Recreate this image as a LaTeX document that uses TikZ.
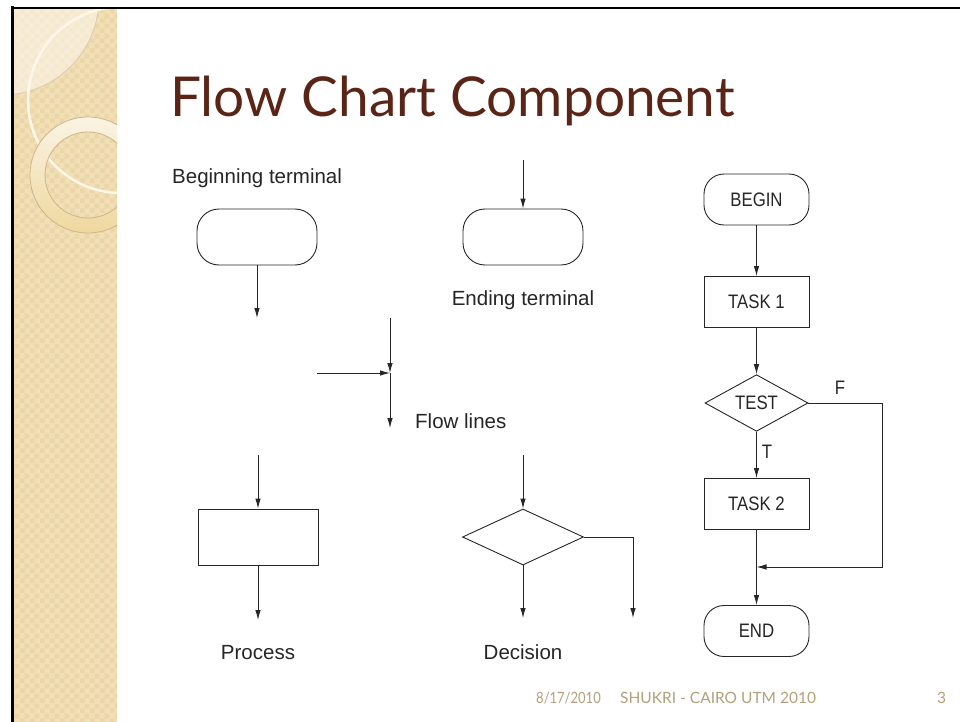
\documentclass[tikz,border=0pt]{standalone}
\usepackage{fontspec}
\setmainfont{Liberation Sans}
\newfontfamily\titlefont{Lato}
\newfontfamily\datefont[FakeStretch=0.84]{Lato}
\newfontfamily\narrowfont[FakeStretch=0.86]{Liberation Sans}
\usetikzlibrary{arrows.meta,shapes.geometric,patterns}

\definecolor{stripbeige}{HTML}{F1DFB7}
\definecolor{stripcheck}{HTML}{EBD6A8}
\definecolor{ringtop}{HTML}{FBF4E4}
\definecolor{ringbottom}{HTML}{EFD79E}
\definecolor{ringedge}{HTML}{CDB58D}
\definecolor{creamline}{HTML}{FFF8E8}
\definecolor{titlebrown}{HTML}{5A2416}
\definecolor{footertan}{HTML}{B3A07C}
\definecolor{inkgray}{HTML}{262626}

% small two-tone checker used on the side strip
\pgfdeclarepatternformonly{softchecker}{\pgfpointorigin}{\pgfpoint{10pt}{10pt}}{\pgfpoint{10pt}{10pt}}{%
  \pgfpathrectangle{\pgfpointorigin}{\pgfpoint{5pt}{5pt}}%
  \pgfpathrectangle{\pgfpoint{5pt}{5pt}}{\pgfpoint{5pt}{5pt}}%
  \pgfusepath{fill}}

\tikzset{
  conn/.style={draw=inkgray, line width=0.9pt},
  flow/.style={conn, -{Latex[length=10pt,width=5.5pt]}},
  termbox/.style={rectangle, rounded corners=22pt, draw=inkgray, line width=0.9pt,
    minimum width=120pt, minimum height=56pt, inner sep=0pt},
  procbox/.style={rectangle, draw=inkgray, line width=0.9pt,
    minimum width=120pt, minimum height=56pt, inner sep=0pt},
  decbox/.style={diamond, draw=inkgray, line width=0.9pt,
    minimum width=121pt, minimum height=56pt, inner sep=0pt},
  sterm/.style={rectangle, rounded corners=20pt, draw=inkgray, line width=0.9pt,
    minimum width=105pt, minimum height=51pt, inner sep=0pt, text=inkgray,
    font=\narrowfont\fontsize{19.5}{22}\selectfont},
  sbox/.style={rectangle, draw=inkgray, line width=0.9pt,
    minimum width=105pt, minimum height=51pt, inner sep=0pt, text=inkgray,
    font=\narrowfont\fontsize{19.5}{22}\selectfont},
  sdec/.style={diamond, draw=inkgray, line width=0.9pt,
    minimum width=103pt, minimum height=50pt, inner sep=0pt, text=inkgray,
    font=\narrowfont\fontsize{19.5}{22}\selectfont},
  caption/.style={inner sep=0pt, text=inkgray, font=\fontsize{20.5}{24}\selectfont},
  branch/.style={inner sep=0pt, text=inkgray, font=\narrowfont\fontsize{19.5}{22}\selectfont},
  footer/.style={inner sep=0pt, text=footertan, font=\titlefont\fontsize{15.5}{18}\selectfont},
}

\begin{document}
\begin{tikzpicture}[x=1pt, y=-1pt]
\useasboundingbox (0,0) rectangle (960,722);
\fill[white] (0,0) rectangle (960,722);

% ---- decorated side strip ----
\begin{scope}
  \clip (14,9) rectangle (117,722);
  \fill[stripbeige] (14,9) rectangle (117,722);
  \fill[pattern=softchecker, pattern color=stripcheck] (14,9) rectangle (117,722);
  \fill[white, opacity=0.45] (2,-2) circle (97pt);
  \draw[ringedge!70, line width=0.8pt] (2,-2) circle (97pt);
  \draw[creamline, line width=2.5pt] (121,100) circle (93pt);
  \shade[even odd rule, top color=ringtop, bottom color=ringbottom]
    (88,175) circle (58pt) (88,175) circle (43pt);
  \draw[ringedge, line width=0.8pt] (88,175) circle (58pt) (88,175) circle (43pt);
\end{scope}

% ---- frame lines ----
\draw[black, line width=3pt] (12.5,6.5) -- (12.5,722);
\draw[black, line width=2.5pt] (11,8) -- (960,8);

% ---- title ----
\node[anchor=base west, inner sep=0pt, text=titlebrown,
      font=\titlefont\fontsize{55}{64}\selectfont] (title) at (170,117) {Flow Chart Component};

% ---- beginning terminal ----
\node[caption, anchor=base west] (btlabel) at (172,183) {Beginning terminal};
\node[termbox] (bt) at (257,237) {};
\coordinate (btout) at (257,318);
\draw[flow] (bt.south) -- (btout);

% ---- ending terminal ----
\coordinate (etin) at (523,160);
\node[termbox] (et) at (523,237) {};
\draw[flow] (etin) -- (et.north);
\node[caption, anchor=base] (etlabel) at (523,305) {Ending terminal};

% ---- flow lines ----
\coordinate (fltop) at (390,318);
\coordinate (fljoin) at (390,373);
\coordinate (flleft) at (317,373);
\coordinate (flbot) at (390,428);
\draw[flow] (fltop) -- (fljoin);
\draw[flow] (flleft) -- (fljoin);
\draw[flow] (fljoin) -- (flbot);
\node[caption, anchor=base west] (fllabel) at (415,428) {Flow lines};

% ---- process ----
\coordinate (prin) at (258,455);
\node[procbox] (pr) at (258,537) {};
\coordinate (prout) at (258,620);
\draw[flow] (prin) -- (pr.north);
\draw[flow] (pr.south) -- (prout);
\node[caption, anchor=base] (prlabel) at (258,659) {Process};

% ---- decision ----
\coordinate (dcin) at (523,455);
\node[decbox] (dc) at (523,537) {};
\coordinate (dcout) at (523,618);
\coordinate (dcside) at (633,537);
\coordinate (dcsideout) at (633,618);
\draw[flow] (dcin) -- (dc.north);
\draw[flow] (dc.south) -- (dcout);
\draw[flow] (dc.east) -- (dcside) -- (dcsideout);
\node[caption, anchor=base] (dclabel) at (523,659) {Decision};

% ---- sample flowchart ----
\node[sterm] (begin) at (756.5,199.5) {BEGIN};
\node[sbox] (task1) at (756.5,302) {TASK 1};
\node[sdec] (test) at (756.5,403) {TEST};
\node[sbox] (task2) at (756.5,504) {TASK 2};
\node[sterm] (end) at (756.5,631) {END};
\coordinate (fcorner) at (882,403);
\coordinate (fbottom) at (882,567);
\coordinate (merge) at (756.5,567);
\draw[flow] (begin) -- (task1);
\draw[flow] (task1) -- (test);
\draw[flow] (test) -- (task2);
\draw[conn] (task2) -- (merge);
\draw[flow] (merge) -- (end);
\draw[flow] (test.east) -- (fcorner) -- (fbottom) -- (merge);
\node[branch] (flabel) at (840,388) {F};
\node[branch] (tlabel) at (767,452) {T};

% ---- footer ----
\node[footer, font=\datefont\fontsize{15.5}{18}\selectfont, anchor=base west] (fdate) at (536,703) {8/17/2010};
\node[footer, anchor=base west] (fname) at (620,703) {SHUKRI - CAIRO UTM 2010};
\node[footer, anchor=base west] (fpage) at (937,703) {3};
\end{tikzpicture}
\end{document}
